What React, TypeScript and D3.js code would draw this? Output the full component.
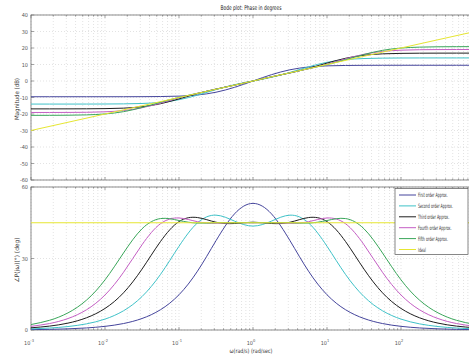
import React from "react";
import * as d3 from "d3";

// sample frequencies, log10(w) in rad/sec
const logW = [-3, -2.75, -2.5, -2.25, -2, -1.75, -1.5, -1.25, -1, -0.75, -0.5, -0.25, 0, 0.25, 0.5, 0.75, 1, 1.25, 1.5, 1.75, 2, 2.25, 2.5, 2.75, 3];

const seriesNames = ["First order Approx.", "Second order Approx.", "Third order Approx.", "Fourth order Approx.", "Fifth order Approx.", "Ideal"];
const seriesColors = ["#45459c", "#3fc2c8", "#1e1e1e", "#c45ec4", "#3aa65a", "#e6e632"];

// magnitude (dB)
const mag1 = [-9.54, -9.54, -9.54, -9.54, -9.54, -9.53, -9.5, -9.42, -9.17, -8.47, -6.8, -3.84, 0, 3.84, 6.8, 8.47, 9.17, 9.42, 9.5, 9.53, 9.54, 9.54, 9.54, 9.54, 9.54];
const mag2 = [-13.98, -13.98, -13.98, -13.97, -13.94, -13.86, -13.62, -12.94, -11.34, -8.57, -5.21, -2.24, 0, 2.24, 5.21, 8.57, 11.34, 12.94, 13.62, 13.86, 13.94, 13.97, 13.98, 13.98, 13.98];
const mag3 = [-16.9, -16.9, -16.89, -16.85, -16.75, -16.45, -15.61, -13.77, -10.84, -7.61, -4.87, -2.52, 0, 2.52, 4.87, 7.61, 10.84, 13.77, 15.61, 16.45, 16.75, 16.85, 16.89, 16.9, 16.9];
const mag4 = [-19.08, -19.07, -19.04, -18.95, -18.68, -17.92, -16.21, -13.4, -10.19, -7.41, -5.0, -2.5, 0, 2.5, 5.0, 7.41, 10.19, 13.4, 16.21, 17.92, 18.68, 18.95, 19.04, 19.07, 19.08];
const mag5 = [-20.82, -20.8, -20.73, -20.53, -19.97, -18.58, -16.06, -12.88, -9.95, -7.47, -5.01, -2.5, 0, 2.5, 5.01, 7.47, 9.95, 12.88, 16.06, 18.58, 19.97, 20.53, 20.73, 20.8, 20.82];
const idealLogW = [-3, 3];
const idealMag = [-30, 30];

// phase (deg)
const ph1 = [0.15, 0.27, 0.48, 0.86, 1.53, 2.71, 4.82, 8.51, 14.79, 24.69, 37.47, 48.72, 53.13, 48.72, 37.47, 24.69, 14.79, 8.51, 4.82, 2.71, 1.53, 0.86, 0.48, 0.27, 0.15];
const ph2 = [0.46, 0.82, 1.45, 2.58, 4.57, 8.06, 14.02, 23.33, 35.14, 44.96, 48.19, 45.69, 43.6, 45.69, 48.19, 44.96, 35.14, 23.33, 14.02, 8.06, 4.57, 2.58, 1.45, 0.82, 0.46];
const ph3 = [0.92, 1.63, 2.89, 5.13, 9.04, 15.6, 25.54, 37.14, 45.49, 47.18, 45.22, 44.68, 45.24, 44.68, 45.22, 47.18, 45.49, 37.14, 25.54, 15.6, 9.04, 5.13, 2.89, 1.63, 0.92];
const ph4 = [1.53, 2.71, 4.81, 8.48, 14.69, 24.2, 35.76, 44.6, 47.0, 45.44, 44.78, 45.06, 44.97, 45.06, 44.78, 45.44, 47.0, 44.6, 35.76, 24.2, 14.69, 8.48, 4.81, 2.71, 1.53];
const ph5 = [2.29, 4.07, 7.19, 12.53, 21.04, 32.32, 42.46, 46.76, 45.94, 44.85, 45.01, 45.0, 45.02, 45.0, 45.01, 44.85, 45.94, 46.76, 42.46, 32.32, 21.04, 12.53, 7.19, 4.07, 2.29];
const idealPh = [45, 45];

const magTicks = [40, 30, 20, 10, 0, -10, -20, -30, -40, -50, -60];
const phTicks = [0, 30, 60];
const decadeLabelExps = [-3, -2, -1, 0, 1, 2];

const FONT = "'Liberation Sans Narrow', 'DejaVu Sans Condensed', 'Liberation Sans', Arial, sans-serif";

export default function App() {
  const W = 469, H = 354;
  const L = 31, R = 475;
  const x = d3.scaleLog().domain([1e-3, 1e3]).range([L, R]);
  const yMag = d3.scaleLinear().domain([-60, 40]).range([180, 15]);
  const yPh = d3.scaleLinear().domain([0, 60]).range([330, 187]);

  const magSeries = [mag1, mag2, mag3, mag4, mag5];
  const phSeries = [ph1, ph2, ph3, ph4, ph5];

  const lineGen = (ys: d3.ScaleLinear<number, number>) =>
    d3.line<[number, number]>()
      .x((d) => x(Math.pow(10, d[0])))
      .y((d) => ys(d[1]))
      .curve(d3.curveNatural);
  const straight = (ys: d3.ScaleLinear<number, number>) =>
    d3.line<[number, number]>()
      .x((d) => x(Math.pow(10, d[0])))
      .y((d) => ys(d[1]));

  const minorW: number[] = [];
  for (let e = -3; e < 3; e++) for (let m = 1; m < 10; m++) minorW.push(m * Math.pow(10, e));
  minorW.push(1e3);

  const panel = (ys: d3.ScaleLinear<number, number>, yTicks: number[], key: string) => {
    const [y0, y1] = ys.range(); // bottom, top
    return (
      <g key={key}>
        {minorW.map((w, i) => (
          <line key={"g" + i} x1={x(w)} x2={x(w)} y1={y1} y2={y0} stroke="#c6c6c6" strokeWidth={0.5} strokeDasharray="1,2" />
        ))}
        {yTicks.map((t, i) => (
          <line key={"h" + i} x1={L} x2={R} y1={ys(t)} y2={ys(t)} stroke="#c6c6c6" strokeWidth={0.5} strokeDasharray="1,2" />
        ))}
        {minorW.map((w, i) => {
          const major = Math.abs(Math.log10(w) - Math.round(Math.log10(w))) < 1e-9;
          const len = major ? 3 : 1.6;
          return (
            <g key={"t" + i}>
              <line x1={x(w)} x2={x(w)} y1={y0} y2={y0 - len} stroke="#666" strokeWidth={0.6} />
              <line x1={x(w)} x2={x(w)} y1={y1} y2={y1 + len} stroke="#666" strokeWidth={0.6} />
            </g>
          );
        })}
        {yTicks.map((t, i) => (
          <g key={"yt" + i}>
            <line x1={L} x2={L + 3} y1={ys(t)} y2={ys(t)} stroke="#666" strokeWidth={0.6} />
            <text x={L - 3} y={ys(t) + 2} fontSize={5.5} textAnchor="end" fill="#555" fontFamily={FONT}>{t}</text>
          </g>
        ))}
        <rect x={L} y={y1} width={R - L} height={y0 - y1} fill="none" stroke="#707070" strokeWidth={0.8} />
      </g>
    );
  };

  return (
    <svg width={W} height={H} style={{ position: "absolute", left: 0, top: 0, background: "#fff" }}>
      <defs>
        <clipPath id="cMag"><rect x={L} y={15} width={R - L} height={165} /></clipPath>
        <clipPath id="cPh"><rect x={L} y={187} width={R - L} height={143} /></clipPath>
      </defs>
      <rect x={0} y={0} width={W} height={H} fill="#fff" />
      {panel(yMag, magTicks, "pm")}
      {panel(yPh, phTicks, "pp")}

      <g clipPath="url(#cMag)">
        {magSeries.map((s, i) => (
          <path key={i} d={lineGen(yMag)(logW.map((u, j) => [u, s[j]] as [number, number])) || ""} fill="none" stroke={seriesColors[i]} strokeWidth={1} />
        ))}
        <path d={straight(yMag)(idealLogW.map((u, j) => [u, idealMag[j]] as [number, number])) || ""} fill="none" stroke={seriesColors[5]} strokeWidth={1} />
      </g>
      <g clipPath="url(#cPh)">
        {phSeries.map((s, i) => (
          <path key={i} d={lineGen(yPh)(logW.map((u, j) => [u, s[j]] as [number, number])) || ""} fill="none" stroke={seriesColors[i]} strokeWidth={1} />
        ))}
        <path d={straight(yPh)(idealLogW.map((u, j) => [u, idealPh[j]] as [number, number])) || ""} fill="none" stroke={seriesColors[5]} strokeWidth={1} />
      </g>

      {decadeLabelExps.map((e) => (
        <text key={e} x={x(Math.pow(10, e)) - 2} y={344.5} fontSize={5.5} textAnchor="middle" fill="#555" fontFamily={FONT}>
          10<tspan dy={-2.5} fontSize={4}>{e}</tspan>
        </text>
      ))}

      <text x={251} y={10} fontSize={6.5} textAnchor="middle" fill="#222" fontFamily={FONT} textLength={61} lengthAdjust="spacingAndGlyphs">Bode plot: Phase in degrees</text>
      <text x={251} y={353} fontSize={6} textAnchor="middle" fill="#333" fontFamily={FONT} textLength={43} lengthAdjust="spacingAndGlyphs">ω(rad/s) (rad/sec)</text>
      <text transform={`translate(19,99) rotate(-90)`} fontSize={6} textAnchor="middle" fill="#333" fontFamily={FONT} textLength={42} lengthAdjust="spacingAndGlyphs">Magnitude (dB)</text>
      <text transform={`translate(19,260) rotate(-90)`} fontSize={6} textAnchor="middle" fill="#333" fontFamily={FONT} textLength={45} lengthAdjust="spacingAndGlyphs">∠P(jω)(°) (deg)</text>

      <g>
        <rect x={395} y={188.5} width={73} height={66} fill="#fff" stroke="#555" strokeWidth={0.7} />
        {seriesNames.map((n, i) => {
          const yy = 195 + i * 10.9;
          return (
            <g key={n}>
              <line x1={399} x2={416} y1={yy} y2={yy} stroke={seriesColors[i]} strokeWidth={1} />
              <g transform={`translate(418,${yy + 2}) scale(0.6,1)`}>
                <text x={0} y={0} fontSize={6} fill="#333" fontFamily={FONT}>{n}</text>
              </g>
            </g>
          );
        })}
      </g>
    </svg>
  );
}
